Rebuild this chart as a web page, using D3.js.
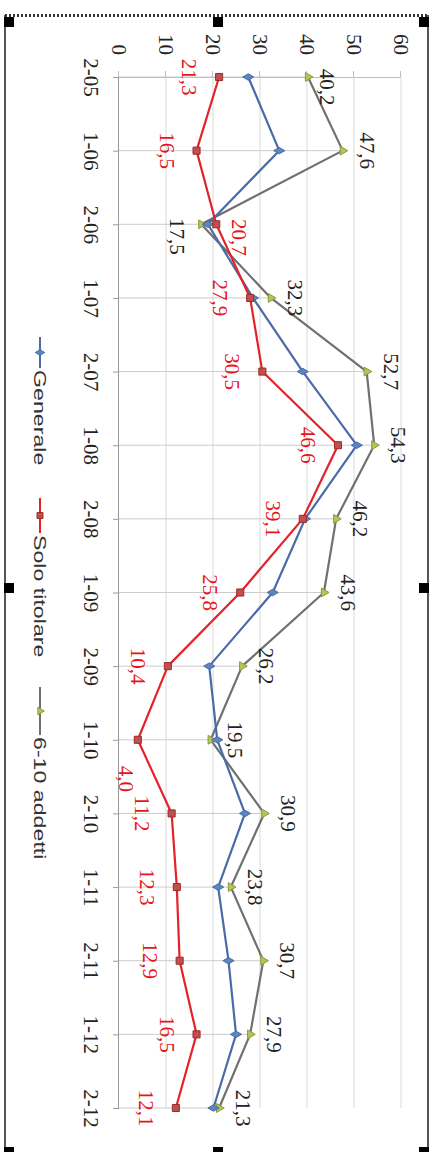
<!DOCTYPE html>
<html>
<head>
<meta charset="utf-8">
<script src="https://cdn.jsdelivr.net/npm/d3@7/dist/d3.min.js"></script>
<style>
  html, body { margin: 0; padding: 0; background: #ffffff; }
  svg { display: block; }
</style>
</head>
<body>
<script>
// ---- data ----
const categories = ["2-05","1-06","2-06","1-07","2-07","1-08","2-08","1-09","2-09","1-10","2-10","1-11","2-11","1-12","2-12"];
const generale = [27.5, 34.1, 18.9, 28.5, 39.1, 50.6, 39.6, 32.7, 19.2, 20.9, 26.8, 21.1, 23.3, 24.9, 20.1];
const soloTitolare = [21.3, 16.5, 20.7, 27.9, 30.5, 46.6, 39.1, 25.8, 10.4, 4.0, 11.2, 12.3, 12.9, 16.5, 12.1];
const addetti610 = [40.2, 47.6, 17.5, 32.3, 52.7, 54.3, 46.2, 43.6, 26.2, 19.5, 30.9, 23.8, 30.7, 27.9, 21.3];
const valueTicks = [0, 10, 20, 30, 40, 50, 60];
const seriesNames = ["Generale", "Solo titolare", "6-10 addetti"];

// ---- setup ----
const W = 432, H = 1152;
const SERIF = '"Liberation Serif", "Times New Roman", serif';
const SANS = '"Liberation Sans", Arial, sans-serif';
const svg = d3.select("body").append("svg").attr("width", W).attr("height", H);
svg.append("rect").attr("width", W).attr("height", H).attr("fill", "#ffffff");

// chart drawn in an unrotated frame (1152 wide x 432 tall), then rotated 90deg clockwise
const g = svg.append("g").attr("transform", `translate(${W},0) rotate(90)`);

const x = d3.scalePoint().domain(categories).range([77, 1108]);
const y = d3.scaleLinear().domain([0, 60]).range([313, 31]);

const locale = d3.formatLocale({decimal: ",", thousands: ".", grouping: [3], currency: ["", "€"]});
const fmt = locale.format(".1f");

// gridlines
g.append("g").selectAll("line").data(valueTicks.slice(1)).join("line")
  .attr("x1", x.range()[0]).attr("x2", x.range()[1])
  .attr("y1", d => y(d)).attr("y2", d => y(d))
  .attr("stroke", "#d9d9d9").attr("stroke-width", 1);

// drop lines (from axis to max value in each category)
const maxVals = categories.map((c, i) => d3.max([generale[i], soloTitolare[i], addetti610[i]]));
g.append("g").selectAll("line").data(categories).join("line")
  .attr("x1", d => x(d)).attr("x2", d => x(d))
  .attr("y1", y(0)).attr("y2", (d, i) => y(maxVals[i]))
  .attr("stroke", "#cccccc").attr("stroke-width", 1);

// value axis
const yAxis = g.append("g").attr("transform", `translate(${x.range()[0]},0)`)
  .call(d3.axisLeft(y).tickValues(valueTicks).tickSize(6).tickSizeOuter(0).tickPadding(16).tickFormat(d3.format("d")));
yAxis.select(".domain").attr("stroke", "#bfbfbf");
yAxis.selectAll(".tick line").attr("stroke", "#bfbfbf");
yAxis.selectAll("text").style("font-family", SERIF).style("font-size", "21px").attr("fill", "#222");

// category axis
const xAxis = g.append("g").attr("transform", `translate(0,${y(0)})`)
  .call(d3.axisBottom(x).tickSize(6).tickSizeOuter(0).tickPadding(14));
xAxis.select(".domain").attr("stroke", "#9a9a9a");
xAxis.selectAll(".tick line").attr("stroke", "#9a9a9a");
xAxis.selectAll("text").style("font-family", SERIF).style("font-size", "21px").attr("fill", "#222");

// series styles
const series = [
  {name: seriesNames[0], values: generale, line: "#4a6aa8", fill: "#5b86c0", stroke: "#4a6aa8", shape: d3.symbolDiamond, size: 36},
  {name: seriesNames[1], values: soloTitolare, line: "#e4222a", fill: "#c0504d", stroke: "#9c2a2a", shape: d3.symbolSquare, size: 50},
  {name: seriesNames[2], values: addetti610, line: "#707070", fill: "#b5c456", stroke: "#8a9a3c", shape: d3.symbolTriangle, size: 34}
];

const lineGen = d3.line().x((d, i) => x(categories[i])).y(d => y(d));

// draw order: 6-10 addetti, generale, solo titolare on top
[series[2], series[0], series[1]].forEach(s => {
  g.append("path").datum(s.values).attr("d", lineGen)
    .attr("fill", "none").attr("stroke", s.line).attr("stroke-width", 2.2).attr("stroke-linejoin", "round");
  g.append("g").selectAll("path").data(s.values).join("path")
    .attr("d", d3.symbol().type(s.shape).size(s.size))
    .attr("transform", (d, i) => `translate(${x(categories[i])},${y(d)})`)
    .attr("fill", s.fill).attr("stroke", s.stroke).attr("stroke-width", 1);
});

// data labels
// default: 6-10 addetti above, Solo titolare below; a few labels nudged like the original
const grayOffsets = {0: [10, -19], 2: [12, 24]};
const redOffsets = {2: [13, -23], 9: [39, 12]};
function drawLabels(values, color, defaultDy, offsets) {
  g.append("g").selectAll("text").data(values).join("text")
    .attr("x", (d, i) => x(categories[i]) + (offsets[i] ? offsets[i][0] : 0))
    .attr("y", (d, i) => y(d) + (offsets[i] ? offsets[i][1] : defaultDy) + 7)
    .attr("text-anchor", "middle")
    .style("font-family", SERIF).style("font-size", "21px")
    .attr("fill", color)
    .text(d => fmt(d));
}
drawLabels(addetti610, "#222", -24, grayOffsets);
drawLabels(soloTitolare, "#e8141c", 30, redOffsets);

// legend
const legendY = 392;
const legendItems = [
  {s: series[0], x1: 337, x2: 368, tx: 370},
  {s: series[1], x1: 498, x2: 533, tx: 535},
  {s: series[2], x1: 687, x2: 735, tx: 737}
];
const lg = g.append("g");
legendItems.forEach(it => {
  lg.append("line").attr("x1", it.x1).attr("x2", it.x2).attr("y1", legendY).attr("y2", legendY)
    .attr("stroke", it.s.line).attr("stroke-width", 2);
  lg.append("path").attr("d", d3.symbol().type(it.s.shape).size(it.s.size * 0.7))
    .attr("transform", `translate(${(it.x1 + it.x2) / 2},${legendY})`)
    .attr("fill", it.s.fill).attr("stroke", it.s.stroke).attr("stroke-width", 1);
  lg.append("text")
    .attr("transform", `translate(${it.tx},${legendY + 6}) scale(1.45,1)`)
    .style("font-family", SANS).style("font-size", "16px").attr("fill", "#333")
    .text(it.s.name);
});

// frame with selection handles (screen coordinates)
svg.append("line").attr("x1", 5).attr("x2", 5).attr("y1", 15).attr("y2", 1150).attr("stroke", "#555").attr("stroke-width", 2);
svg.append("line").attr("x1", 428).attr("x2", 428).attr("y1", 15).attr("y2", 1150).attr("stroke", "#555").attr("stroke-width", 2);
svg.append("line").attr("x1", 5).attr("x2", 428).attr("y1", 15.5).attr("y2", 15.5)
  .attr("stroke", "#333").attr("stroke-width", 3).attr("stroke-dasharray", "2,2");
const handles = [[4,17],[213,17],[419,17],[4,583],[419,583],[4,1147],[213,1147],[419,1147]];
svg.append("g").selectAll("rect").data(handles).join("rect")
  .attr("x", d => d[0]).attr("y", d => d[1]).attr("width", 10).attr("height", 10).attr("fill", "#000");
</script>
</body>
</html>
